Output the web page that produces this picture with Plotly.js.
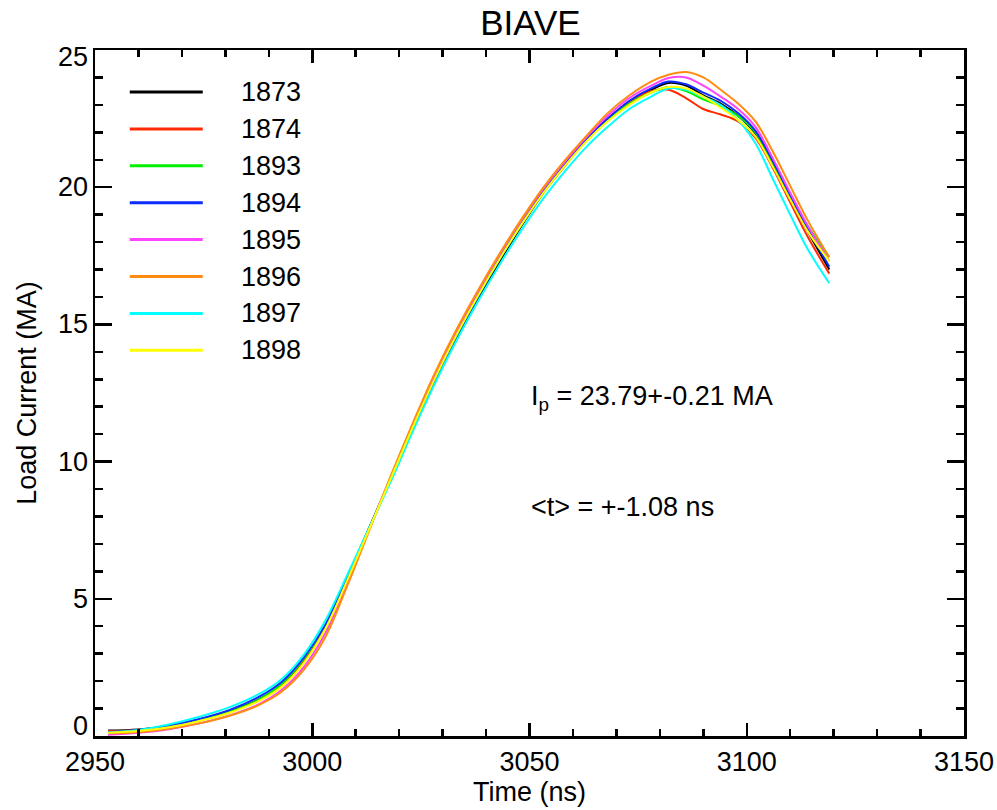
<!DOCTYPE html>
<html>
<head>
<meta charset="utf-8">
<script src="https://cdn.plot.ly/plotly-3.0.1.min.js"></script>
<style>html,body{margin:0;padding:0;background:#fff;}#chart{width:997px;height:810px;}</style>
</head>
<body>
<div id="chart"></div>
<script>
// Time axis (ns)
var timeNs = [2953,2960,2967,2974,2981,2988,2993,2998,3003,3008,3013,3018,3023,3028,3033,3038,3043,3048,3053,3058,3063,3068,3073,3078,3082,3086,3090,3094,3098,3102,3106,3110,3114,3119];

// Shot names and colours
var shotNames = ["1873","1874","1893","1894","1895","1896","1897","1898"];
var shotColors = ["#000000","#ff2a00","#00f000","#0a2cff","#ff44ff","#ff8c10","#00ffff","#ffff00"];

// Load current (MA) per shot
var shot1873 = [0.20,0.24,0.36,0.58,0.90,1.36,1.88,2.75,4.0,5.7,7.53,9.35,11.2,12.92,14.47,15.9,17.25,18.55,19.75,20.75,21.7,22.45,23.1,23.55,23.8,23.7,23.35,23.05,22.6,21.95,20.85,19.6,18.4,17.0];
var shot1874 = [0.18,0.22,0.34,0.56,0.88,1.32,1.84,2.70,3.95,5.65,7.5,9.38,11.25,13.0,14.6,16.05,17.4,18.65,19.8,20.8,21.75,22.5,23.1,23.5,23.55,23.25,22.85,22.65,22.4,21.8,20.7,19.45,18.2,16.85];
var shot1893 = [0.14,0.20,0.34,0.57,0.88,1.35,1.90,2.80,4.05,5.75,7.55,9.35,11.2,12.95,14.55,16.0,17.4,18.65,19.8,20.8,21.7,22.45,23.05,23.45,23.65,23.5,23.2,22.95,22.6,22.0,20.9,19.7,18.6,17.45];
var shot1894 = [0.15,0.22,0.38,0.62,0.95,1.45,1.98,2.85,4.05,5.75,7.55,9.35,11.17,12.9,14.5,15.95,17.35,18.6,19.8,20.8,21.75,22.5,23.15,23.6,23.85,23.75,23.45,23.15,22.7,22.05,20.95,19.7,18.5,17.1];
var shot1895 = [0.05,0.12,0.25,0.46,0.75,1.18,1.68,2.50,3.75,5.55,7.5,9.4,11.3,13.07,14.7,16.15,17.5,18.75,19.9,20.9,21.8,22.6,23.25,23.7,23.98,24.0,23.7,23.3,22.85,22.2,21.05,19.8,18.6,17.3];
var shot1896 = [0.10,0.14,0.26,0.46,0.74,1.15,1.62,2.40,3.6,5.45,7.45,9.45,11.35,13.15,14.75,16.2,17.55,18.8,19.95,20.95,21.85,22.7,23.35,23.85,24.1,24.2,24.0,23.55,23.05,22.4,21.3,20.05,18.8,17.45];
var shot1897 = [0.13,0.22,0.42,0.70,1.05,1.55,2.08,2.95,4.2,5.85,7.55,9.25,11.05,12.77,14.35,15.8,17.15,18.4,19.55,20.55,21.45,22.2,22.85,23.3,23.6,23.55,23.3,23.0,22.45,21.6,20.3,19.0,17.75,16.5];
var shot1898 = [0.12,0.18,0.32,0.55,0.85,1.30,1.80,2.65,3.9,5.65,7.5,9.35,11.2,12.95,14.55,16.0,17.35,18.6,19.75,20.75,21.65,22.4,23.0,23.45,23.65,23.6,23.3,22.9,22.45,21.85,20.75,19.55,18.4,17.3];

var shotValues = [shot1873,shot1874,shot1893,shot1894,shot1895,shot1896,shot1897,shot1898];

var xTickVals = [2950,3000,3050,3100,3150];
var yTickVals = [0,5,10,15,20,25];

var FONT = "Liberation Sans, Arial, sans-serif";
var FS = 27;

var traces = shotNames.map(function(n,i){
  return {x: timeNs, y: shotValues[i], type:"scatter", mode:"lines", name:n,
    line:{color:shotColors[i], width:2, shape:"spline", smoothing:1.0}, showlegend:false};
});

var shapes = [], annotations = [];

// y tick labels (end labels nudged inward, as in the original)
yTickVals.forEach(function(v, i){
  var shift = (i === 0) ? 10 : (i === yTickVals.length - 1 ? -7 : 0);
  annotations.push({xref:"paper", yref:"y", x:0, y:v, xanchor:"right", yanchor:"middle",
    xshift:-5, yshift:shift, text:String(v), showarrow:false,
    font:{family:FONT, size:FS, color:"#000"}});
});

// Custom legend (line samples + labels)
var legTop = 0.9388, legStep = 0.0538;
shotNames.forEach(function(n,i){
  var yy = legTop - i*legStep;
  shapes.push({type:"line", xref:"paper", yref:"paper", x0:0.040, x1:0.124, y0:yy, y1:yy,
    line:{color:shotColors[i], width:3}});
  annotations.push({xref:"paper", yref:"paper", x:0.166, y:yy, xanchor:"left", yanchor:"middle",
    text:n, showarrow:false, font:{family:FONT, size:FS, color:"#000"}});
});
annotations.push({xref:"paper", yref:"paper", x:0.499, y:0.493, xanchor:"left", yanchor:"middle",
  text:"I<sub>p</sub> = 23.79+-0.21 MA", showarrow:false, font:{family:FONT, size:FS, color:"#000"}});
annotations.push({xref:"paper", yref:"paper", x:0.499, y:0.334, xanchor:"left", yanchor:"middle",
  text:"&lt;t&gt; = +-1.08 ns", showarrow:false, font:{family:FONT, size:FS, color:"#000"}});

var layout = {
  width:997, height:810,
  paper_bgcolor:"#fff", plot_bgcolor:"#fff",
  margin:{l:95, r:33, t:50, b:74},
  title:{text:"BIAVE", font:{family:FONT, size:35, color:"#000"}, x:0.532, xanchor:"center", y:0.972, yanchor:"middle"},
  showlegend:false,
  xaxis:{range:[2950,3150], tickvals:xTickVals, ticktext:xTickVals.map(String),
    ticks:"inside", ticklen:13, tickwidth:2.5, tickcolor:"#000",
    showline:true, linewidth:2.5, linecolor:"#000", mirror:"ticks", showgrid:false, zeroline:false,
    minor:{ticks:"inside", dtick:10, ticklen:7, tickwidth:2.5, tickcolor:"#000", showgrid:false},
    tickfont:{family:FONT, size:FS, color:"#000"},
    title:{text:"Time (ns)", font:{family:FONT, size:FS, color:"#000"}, standoff:2}},
  yaxis:{range:[0,25], tickvals:yTickVals, showticklabels:false,
    ticks:"inside", ticklen:17, tickwidth:2.5, tickcolor:"#000",
    showline:true, linewidth:2.5, linecolor:"#000", mirror:"ticks", showgrid:false, zeroline:false,
    minor:{ticks:"inside", dtick:1, ticklen:8, tickwidth:2.5, tickcolor:"#000", showgrid:false},
    title:{text:"Load Current (MA)", font:{family:FONT, size:FS, color:"#000"}, standoff:48}},
  shapes:shapes, annotations:annotations
};

Plotly.newPlot("chart", traces, layout, {displayModeBar:false, staticPlot:true});
</script>
</body>
</html>
